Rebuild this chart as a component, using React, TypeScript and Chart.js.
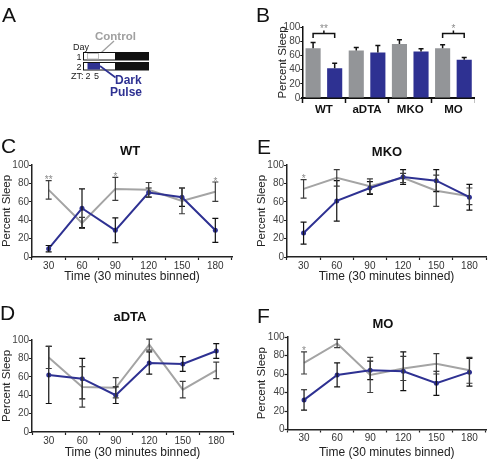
import React, { useEffect, useRef } from 'react';
import { Chart, registerables } from 'chart.js';

Chart.register(...registerables);

const FONT = "'Liberation Sans', Arial, Helvetica, sans-serif";
Chart.defaults.font.family = FONT;

const BLUE = '#2E3192';
const LINE_GRAY = '#A4A4A4';
const BAR_GRAY = '#939598';

// ---------- Panel B data ----------
const groups = ['WT', 'aDTA', 'MKO', 'MO'];
const barControl = [70, 67, 76, 70];
const barControlErr = [8, 4, 6, 5];
const barPulse = [42, 64, 65.5, 54];
const barPulseErr = [7, 10, 4, 3];
const barSignificance = ['**', '', '', '*'];

// ---------- Time course data (C–F) ----------
const timeBins = ['30', '60', '90', '120', '150', '180'];

const wtControl = [73, 37, 74, 73, 61, 71];
const wtControlErr = [10, 6, 12.5, 8, 14, 10.5];
const wtPulse = [9, 53, 29, 70, 65, 29];
const wtPulseErr = [3.5, 21, 13.5, 5, 10, 13];
const wtStars = ['**', '', '*', '', '', '*'];

const mkoControl = [74, 86, 77, 86, 72, 66];
const mkoControlErr = [10, 9, 8, 5, 17, 9];
const mkoPulse = [26, 61, 75, 87, 83, 65];
const mkoPulseErr = [12, 22, 7, 8, 12, 14];
const mkoStars = ['*', '', '', '', '', ''];

const adtaControl = [81, 49, 48, 95, 46, 67];
const adtaControlErr = [12, 22, 11, 6, 9, 9];
const adtaPulse = [62, 58, 40, 75, 74, 88];
const adtaPulseErr = [31, 22, 9, 12, 8, 8];
const adtaStars = ['', '', '', '', '', ''];

const moControl = [72, 93, 59, 66, 71, 64];
const moControlErr = [12, 4.5, 19, 13, 11, 14];
const moPulse = [32, 59, 64, 63, 50, 62];
const moPulseErr = [11, 13, 10, 21, 13, 15];
const moStars = ['*', '', '', '', '', ''];

const errorBarPlugin = {
  id: 'errorBars',
  afterDatasetsDraw(chart: any) {
    const { ctx } = chart;
    const yScale = chart.scales.y;
    chart.data.datasets.forEach((ds: any, di: number) => {
      if (!ds.errors) return;
      const meta = chart.getDatasetMeta(di);
      ctx.save();
      ctx.strokeStyle = ds.errColor || '#222';
      ctx.lineWidth = ds.errWidth || 1.2;
      meta.data.forEach((el: any, i: number) => {
        const v = ds.data[i];
        const e = ds.errors[i];
        const x = el.x;
        const top = yScale.getPixelForValue(v + e);
        const bot = ds.upOnly ? el.y : yScale.getPixelForValue(Math.max(v - e, 0));
        const cw = ds.capHalf ?? 3;
        ctx.beginPath();
        ctx.moveTo(x, top);
        ctx.lineTo(x, bot);
        ctx.moveTo(x - cw, top);
        ctx.lineTo(x + cw, top);
        if (!ds.upOnly) {
          ctx.moveTo(x - cw, bot);
          ctx.lineTo(x + cw, bot);
        }
        ctx.stroke();
        if (ds.stars && ds.stars[i]) {
          ctx.fillStyle = '#8a8a8a';
          ctx.font = `10px ${FONT}`;
          ctx.textAlign = 'center';
          ctx.textBaseline = 'alphabetic';
          ctx.fillText(ds.stars[i], x, top + 2.5);
        }
      });
      ctx.restore();
    });
  },
};

const bracketPlugin = {
  id: 'brackets',
  afterDatasetsDraw(chart: any) {
    const { ctx } = chart;
    const yScale = chart.scales.y;
    const m0 = chart.getDatasetMeta(0);
    const m1 = chart.getDatasetMeta(1);
    barSignificance.forEach((s, i) => {
      if (!s) return;
      const x1 = m0.data[i].x;
      const x2 = m1.data[i].x;
      const y = yScale.getPixelForValue(91);
      const xm = (x1 + x2) / 2;
      ctx.save();
      ctx.strokeStyle = '#111';
      ctx.lineWidth = 1.5;
      ctx.beginPath();
      ctx.moveTo(x1, y + 4.5);
      ctx.lineTo(x1, y);
      ctx.lineTo(x2, y);
      ctx.lineTo(x2, y + 4.5);
      ctx.moveTo(xm, y);
      ctx.lineTo(xm, y - 2.8);
      ctx.stroke();
      ctx.fillStyle = '#8a8a8a';
      ctx.font = `10px ${FONT}`;
      ctx.textAlign = 'center';
      ctx.textBaseline = 'alphabetic';
      ctx.fillText(s, xm, y - 1.5);
      ctx.restore();
    });
  },
};

type Geom = { left: number; top: number; w: number; h: number; padRight: number; yWidth: number; xHeight: number };

function LinePanel(props: {
  geom: Geom;
  control: number[];
  controlErr: number[];
  pulse: number[];
  pulseErr: number[];
  stars: string[];
}) {
  const ref = useRef<HTMLCanvasElement>(null);
  const { geom } = props;
  useEffect(() => {
    const chart = new Chart(ref.current as HTMLCanvasElement, {
      type: 'line',
      data: {
        labels: timeBins,
        datasets: [
          {
            label: 'Dark Pulse',
            data: props.pulse,
            errors: props.pulseErr,
            errColor: '#111',
            borderColor: BLUE,
            backgroundColor: BLUE,
            borderWidth: 2,
            pointRadius: 2.5,
            pointBorderWidth: 0,
            pointBackgroundColor: BLUE,
            tension: 0,
          } as any,
          {
            label: 'Control',
            data: props.control,
            errors: props.controlErr,
            errColor: '#3c3c3c',
            stars: props.stars,
            borderColor: LINE_GRAY,
            backgroundColor: LINE_GRAY,
            borderWidth: 2,
            pointRadius: 0,
            tension: 0,
          } as any,
        ],
      },
      options: {
        responsive: false,
        animation: false,
        devicePixelRatio: 1,
        events: [],
        layout: { padding: { top: 8, right: geom.padRight, left: 0, bottom: 0 } },
        plugins: { legend: { display: false }, tooltip: { enabled: false }, title: { display: false } },
        scales: {
          x: {
            type: 'category',
            offset: true,
            grid: { offset: true, drawOnChartArea: false, drawTicks: true, tickLength: 3, tickColor: '#222', tickWidth: 1.2 },
            border: { display: true, color: '#222', width: 1.5 },
            ticks: { color: '#333', font: { size: 10, family: FONT }, padding: 0, maxRotation: 0, autoSkip: false },
            title: { display: true, text: 'Time (30 minutes binned)', color: '#222', font: { size: 12, family: FONT }, padding: 0 },
            afterFit: (s: any) => {
              s.height = geom.xHeight;
            },
          },
          y: {
            min: 0,
            max: 100,
            grid: { drawOnChartArea: false, drawTicks: true, tickLength: 3, tickColor: '#222', tickWidth: 1.2 },
            border: { display: true, color: '#222', width: 1.5 },
            ticks: { stepSize: 20, autoSkip: false, color: '#444', font: { size: 10, family: FONT }, padding: 0 },
            title: { display: true, text: 'Percent Sleep', color: '#222', font: { size: 11.5, family: FONT }, padding: 0 },
            afterFit: (s: any) => {
              s.width = geom.yWidth;
            },
          },
        },
      } as any,
      plugins: [errorBarPlugin],
    });
    return () => chart.destroy();
  }, []);
  return (
    <canvas
      ref={ref}
      width={geom.w}
      height={geom.h}
      style={{ position: 'absolute', left: geom.left, top: geom.top, width: geom.w, height: geom.h }}
    />
  );
}

function BarPanel() {
  const ref = useRef<HTMLCanvasElement>(null);
  const geom = { left: 276, top: 19, w: 199, h: 100 };
  useEffect(() => {
    const chart = new Chart(ref.current as HTMLCanvasElement, {
      type: 'bar',
      data: {
        labels: groups,
        datasets: [
          {
            label: 'Control',
            data: barControl,
            errors: barControlErr,
            upOnly: true,
            capHalf: 2.5,
            errWidth: 1.5,
            errColor: '#111',
            backgroundColor: BAR_GRAY,
            borderWidth: 0,
            categoryPercentage: 1.0,
            barPercentage: 0.7,
          } as any,
          {
            label: 'Dark Pulse',
            data: barPulse,
            errors: barPulseErr,
            upOnly: true,
            capHalf: 2.5,
            errWidth: 1.5,
            errColor: '#111',
            backgroundColor: BLUE,
            borderWidth: 0,
            categoryPercentage: 1.0,
            barPercentage: 0.7,
          } as any,
        ],
      },
      options: {
        responsive: false,
        animation: false,
        devicePixelRatio: 1,
        events: [],
        layout: { padding: { top: 8, right: 0, left: 0, bottom: 0 } },
        plugins: { legend: { display: false }, tooltip: { enabled: false }, title: { display: false } },
        scales: {
          x: {
            type: 'category',
            offset: true,
            grid: { offset: true, drawOnChartArea: false, drawTicks: true, tickLength: 5, tickColor: '#111', tickWidth: 1.5 },
            border: { display: true, color: '#111', width: 2 },
            ticks: { color: '#111', font: { size: 11.5, weight: 'bold', family: FONT }, padding: 0, maxRotation: 0, autoSkip: false },
            afterFit: (s: any) => {
              s.height = 21;
            },
          },
          y: {
            min: 0,
            max: 100,
            grid: { drawOnChartArea: false, drawTicks: true, tickLength: 2, tickColor: '#111', tickWidth: 1.2 },
            border: { display: true, color: '#111', width: 1.5 },
            ticks: { stepSize: 20, autoSkip: false, color: '#444', font: { size: 10, family: FONT }, padding: 0 },
            title: { display: true, text: 'Percent Sleep', color: '#222', font: { size: 11.5, family: FONT }, padding: 0 },
            afterFit: (s: any) => {
              s.width = 26.3;
            },
          },
        },
      } as any,
      plugins: [errorBarPlugin, bracketPlugin],
    });
    return () => chart.destroy();
  }, []);
  return (
    <canvas
      ref={ref}
      width={geom.w}
      height={geom.h}
      style={{ position: 'absolute', left: geom.left, top: geom.top, width: geom.w, height: geom.h }}
    />
  );
}

function Overlay() {
  const letter = { fontFamily: FONT, fontSize: 21, fill: '#111' } as any;
  const title = { fontFamily: FONT, fontSize: 13, fontWeight: 'bold', fill: '#111', textAnchor: 'middle' } as any;
  const small = { fontFamily: FONT, fontSize: 9, fill: '#222' } as any;
  return (
    <svg
      width={490}
      height={460}
      style={{ position: 'absolute', left: 0, top: 0, pointerEvents: 'none' }}
    >
      {/* panel letters */}
      <text x={2} y={22} style={letter}>A</text>
      <text x={256} y={22} style={letter}>B</text>
      <text x={1} y={153} style={letter}>C</text>
      <text x={257} y={154} style={letter}>E</text>
      <text x={0} y={320} style={letter}>D</text>
      <text x={257} y={323} style={letter}>F</text>

      {/* panel titles */}
      <text x={130} y={155} style={title}>WT</text>
      <text x={387} y={156} style={title}>MKO</text>
      <text x={130} y={320.5} style={title}>aDTA</text>
      <text x={383} y={327.5} style={title}>MO</text>

      {/* panel A schematic */}
      <text x={95} y={39.5} style={{ fontFamily: FONT, fontSize: 11.5, fontWeight: 'bold', fill: '#A0A0A0' }}>Control</text>
      <line x1={114} y1={41} x2={97} y2={56.5} stroke="#A0A0A0" strokeWidth={1.3} />
      <text x={73} y={50} style={small}>Day</text>
      <text x={81.5} y={59.5} style={{ ...small, textAnchor: 'end' }}>1</text>
      <text x={81.5} y={69.5} style={{ ...small, textAnchor: 'end' }}>2</text>
      <rect x={83.5} y={52.5} width={65} height={7.5} fill="#fff" stroke="#111" strokeWidth={1} />
      <rect x={115} y={52.5} width={33.5} height={7.5} fill="#111" />
      <rect x={87.5} y={53.5} width={11} height={5.5} fill="none" stroke="#B0B0B0" strokeWidth={0.8} />
      <rect x={83.5} y={62.5} width={65} height={7.5} fill="#fff" stroke="#111" strokeWidth={1} />
      <rect x={87.5} y={63} width={12.5} height={6.5} fill={BLUE} />
      <rect x={115} y={62.5} width={33.5} height={7.5} fill="#111" />
      <text x={71} y={79} style={small}>ZT:</text>
      <text x={88} y={79} style={{ ...small, textAnchor: 'middle' }}>2</text>
      <text x={96.5} y={79} style={{ ...small, textAnchor: 'middle' }}>5</text>
      <line x1={100} y1={66} x2={115.5} y2={77.5} stroke={BLUE} strokeWidth={1.6} />
      <text x={115} y={84} style={{ fontFamily: FONT, fontSize: 12, fontWeight: 'bold', fill: BLUE }}>Dark</text>
      <text x={110} y={96} style={{ fontFamily: FONT, fontSize: 12, fontWeight: 'bold', fill: BLUE }}>Pulse</text>
    </svg>
  );
}

export default function App() {
  return (
    <div
      style={{
        position: 'fixed',
        left: 0,
        top: 0,
        width: 490,
        height: 460,
        background: '#fff',
        overflow: 'hidden',
        fontFamily: FONT,
      }}
    >
      <BarPanel />
      <LinePanel
        geom={{ left: 0, top: 157, w: 240, h: 127, padRight: 8, yWidth: 32, xHeight: 27 }}
        control={wtControl}
        controlErr={wtControlErr}
        pulse={wtPulse}
        pulseErr={wtPulseErr}
        stars={wtStars}
      />
      <LinePanel
        geom={{ left: 255, top: 157, w: 235, h: 127, padRight: 2, yWidth: 32, xHeight: 27 }}
        control={mkoControl}
        controlErr={mkoControlErr}
        pulse={mkoPulse}
        pulseErr={mkoPulseErr}
        stars={mkoStars}
      />
      <LinePanel
        geom={{ left: 0, top: 332, w: 241, h: 128, padRight: 8, yWidth: 32, xHeight: 28 }}
        control={adtaControl}
        controlErr={adtaControlErr}
        pulse={adtaPulse}
        pulseErr={adtaPulseErr}
        stars={adtaStars}
      />
      <LinePanel
        geom={{ left: 255, top: 329, w: 235, h: 131, padRight: 2, yWidth: 32.5, xHeight: 30.5 }}
        control={moControl}
        controlErr={moControlErr}
        pulse={moPulse}
        pulseErr={moPulseErr}
        stars={moStars}
      />
      <Overlay />
    </div>
  );
}
